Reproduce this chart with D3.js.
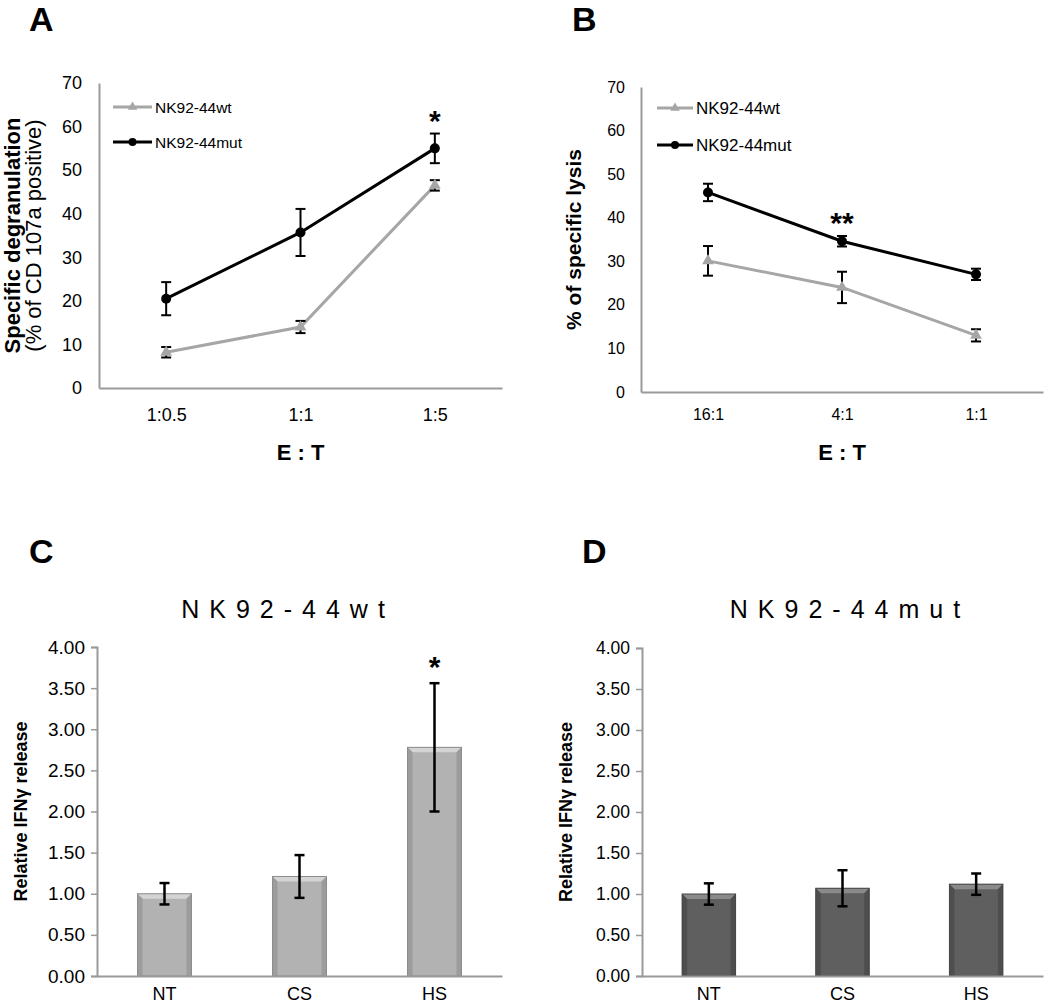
<!DOCTYPE html>
<html><head><meta charset="utf-8">
<script src="https://cdn.jsdelivr.net/npm/d3@7"></script>
<style>
html,body{margin:0;padding:0;background:#fff;}
svg{display:block;font-family:"Liberation Sans",Arial,sans-serif;}
</style></head>
<body>
<svg id="fig" width="1050" height="1005"></svg>
<script>
// ---------- data ----------
const catsA = ["1:0.5", "1:1", "1:5"];
const wtA = [8.2, 14.0, 46.5];
const wtAerr = [1.2, 1.4, 1.2];
const mutA = [20.5, 35.7, 55.0];
const mutAerr = [3.8, 5.4, 3.4];

const catsB = ["16:1", "4:1", "1:1"];
const wtB = [30.1, 24.0, 13.0];
const wtBerr = [3.4, 3.6, 1.4];
const mutB = [45.8, 34.6, 27.0];
const mutBerr = [2.0, 1.2, 1.3];

const treatments = ["NT", "CS", "HS"];
const wtC = [1.00, 1.21, 2.78];
const wtCerr = [0.13, 0.26, 0.78];
const mutD = [1.00, 1.07, 1.12];
const mutDerr = [0.13, 0.22, 0.13];

const lineTicks = [0, 10, 20, 30, 40, 50, 60, 70];
const barTicks = [0, 0.5, 1, 1.5, 2, 2.5, 3, 3.5, 4];
const seriesNames = ["NK92-44wt", "NK92-44mut"];

// ---------- drawing ----------
const svg = d3.select("#fig");
const GRAY = "#a6a6a6";
const AXIS = "#9a9a9a";

function panelLetter(t, x, y) {
  svg.append("text").attr("x", x).attr("y", y).attr("font-size", 34)
    .attr("font-weight", "bold").text(t);
}

function linePanel(o) {
  const x = d3.scalePoint().domain(o.cats).range([o.x0, o.x1]).padding(0.5);
  const y = d3.scaleLinear().domain([0, 70]).range([o.y0, o.y1]);
  const g = svg.append("g");
  const ya = g.append("g").attr("transform", `translate(${o.x0},0)`)
    .call(d3.axisLeft(y).tickValues(lineTicks).tickSize(0).tickPadding(o.tickPad));
  ya.select(".domain").attr("stroke", AXIS).attr("stroke-width", 2);
  ya.selectAll("text").attr("font-size", o.tickFont).attr("fill", "#000")
    .attr("font-family", "Liberation Sans, Arial, sans-serif");
  const xa = g.append("g").attr("transform", `translate(0,${o.y0})`)
    .call(d3.axisBottom(x).tickSize(0).tickPadding(o.xTickPad));
  xa.select(".domain").attr("stroke", AXIS).attr("stroke-width", 2);
  xa.selectAll("text").attr("font-size", o.tickFont).attr("fill", "#000")
    .attr("font-family", "Liberation Sans, Arial, sans-serif");

  const series = [
    {vals: o.wt, err: o.wtErr, color: GRAY, mark: "tri"},
    {vals: o.mut, err: o.mutErr, color: "#000", mark: "circ"}
  ];
  const line = d3.line().x((d, i) => x(o.cats[i])).y(d => y(d));
  series.forEach(s => {
    g.append("path").datum(s.vals).attr("d", line).attr("fill", "none")
      .attr("stroke", s.color).attr("stroke-width", 3);
  });
  series.forEach(s => {
    s.vals.forEach((v, i) => {
      const cx = x(o.cats[i]);
      const yt = y(v + s.err[i]), yb = y(v - s.err[i]);
      g.append("line").attr("x1", cx).attr("x2", cx).attr("y1", yt).attr("y2", yb)
        .attr("stroke", "#000").attr("stroke-width", 2);
      [yt, yb].forEach(yy => g.append("line").attr("x1", cx - 5).attr("x2", cx + 5)
        .attr("y1", yy).attr("y2", yy).attr("stroke", "#000").attr("stroke-width", 2));
      if (s.mark === "circ") {
        g.append("circle").attr("cx", cx).attr("cy", y(v)).attr("r", 5).attr("fill", "#000");
      } else {
        g.append("path").attr("d", d3.symbol(d3.symbolTriangle, 60)())
          .attr("transform", `translate(${cx},${y(v)})`).attr("fill", GRAY);
      }
    });
  });
  const si = o.sigIndex;
  g.append("text").attr("x", x(o.cats[si])).attr("y", y(o.mut[si] + o.mutErr[si]) - 20 + 17)
    .attr("text-anchor", "middle").attr("font-size", 30).attr("font-weight", "bold").text(o.sig);
  series.forEach((s, k) => {
    const ly = o.legY[k];
    g.append("line").attr("x1", o.legX0).attr("x2", o.legX1).attr("y1", ly).attr("y2", ly)
      .attr("stroke", s.color).attr("stroke-width", 3);
    const mx = (o.legX0 + o.legX1) / 2;
    if (s.mark === "circ") g.append("circle").attr("cx", mx).attr("cy", ly).attr("r", 4).attr("fill", "#000");
    else g.append("path").attr("d", d3.symbol(d3.symbolTriangle, 40)())
      .attr("transform", `translate(${mx},${ly})`).attr("fill", GRAY);
    g.append("text").attr("x", o.legX1 + 3).attr("y", ly + o.legFont * 0.36)
      .attr("font-size", o.legFont).text(seriesNames[k]);
  });
  g.append("text").attr("x", (o.x0 + o.x1) / 2).attr("y", o.xLabY)
    .attr("text-anchor", "middle").attr("font-size", 22).attr("font-weight", "bold")
    .attr("xml:space", "preserve").text("E : T");
  const cy = (o.y0 + o.y1) / 2;
  o.yLabels.forEach(l => {
    g.append("text").attr("transform", `translate(${l.x},${cy}) rotate(-90)`)
      .attr("text-anchor", "middle").attr("font-size", l.size)
      .attr("font-weight", l.bold ? "bold" : "normal").text(l.text);
  });
}

function barPanel(o) {
  const x = d3.scaleBand().domain(treatments).range([o.x0, o.x1]).paddingInner(0.6).paddingOuter(0.3);
  const y = d3.scaleLinear().domain([0, 4]).range([o.y0, o.y1]);
  const g = svg.append("g");
  const ya = g.append("g").attr("transform", `translate(${o.x0},0)`)
    .call(d3.axisLeft(y).tickValues(barTicks).tickFormat(d3.format(".2f")).tickSize(6).tickPadding(6));
  ya.select(".domain").attr("stroke", AXIS).attr("stroke-width", 2);
  ya.selectAll("line").attr("stroke", AXIS).attr("stroke-width", 1.5);
  ya.selectAll("text").attr("font-size", o.tickFont).attr("fill", "#000")
    .attr("font-family", "Liberation Sans, Arial, sans-serif");

  const bw = x.bandwidth(), bev = 5;
  o.vals.forEach((v, i) => {
    const bx = x(treatments[i]), by = y(v), bh = o.y0 - by;
    g.append("rect").attr("x", bx).attr("y", by).attr("width", bw).attr("height", bh)
      .attr("fill", o.fill);
    g.append("path").attr("d", `M${bx},${by}L${bx + bw},${by}L${bx + bw - bev},${by + bev}L${bx + bev},${by + bev}Z`)
      .attr("fill", o.light);
    g.append("path").attr("d", `M${bx},${by}L${bx + bev},${by + bev}L${bx + bev},${o.y0}L${bx},${o.y0}Z`)
      .attr("fill", o.dark);
    g.append("path").attr("d", `M${bx + bw},${by}L${bx + bw - bev},${by + bev}L${bx + bw - bev},${o.y0}L${bx + bw},${o.y0}Z`)
      .attr("fill", o.dark);
    g.append("rect").attr("x", bx).attr("y", by).attr("width", bw).attr("height", bh)
      .attr("fill", "none").attr("stroke", o.edge).attr("stroke-width", 1);
  });
  const xa = g.append("g").attr("transform", `translate(0,${o.y0})`)
    .call(d3.axisBottom(x).tickSize(0).tickPadding(11));
  xa.select(".domain").attr("stroke", AXIS).attr("stroke-width", 2);
  xa.selectAll("text").attr("font-size", 18).attr("fill", "#000")
    .attr("font-family", "Liberation Sans, Arial, sans-serif");
  o.vals.forEach((v, i) => {
    const cx = x(treatments[i]) + bw / 2;
    const yt = y(v + o.err[i]), yb = y(v - o.err[i]);
    g.append("line").attr("x1", cx).attr("x2", cx).attr("y1", yt).attr("y2", yb)
      .attr("stroke", "#000").attr("stroke-width", 2.5);
    [yt, yb].forEach(yy => g.append("line").attr("x1", cx - 5).attr("x2", cx + 5)
      .attr("y1", yy).attr("y2", yy).attr("stroke", "#000").attr("stroke-width", 2.5));
  });
  if (o.sigIndex != null) {
    const i = o.sigIndex;
    g.append("text").attr("x", x(treatments[i]) + bw / 2).attr("y", y(o.vals[i] + o.err[i]) - 23 + 17)
      .attr("text-anchor", "middle").attr("font-size", 30).attr("font-weight", "bold").text("*");
  }
  g.append("text").attr("x", o.titleX).attr("y", 618).attr("text-anchor", "middle")
    .attr("font-size", 25).attr("letter-spacing", 10).text(o.title);
  g.append("text").attr("transform", `translate(${o.yLabX},${(o.y0 + o.y1) / 2}) rotate(-90)`)
    .attr("text-anchor", "middle").attr("font-size", 18).attr("font-weight", "bold")
    .text("Relative IFNγ release");
}

panelLetter("A", 29, 31);
panelLetter("B", 572, 31);
panelLetter("C", 29, 563);
panelLetter("D", 582, 563);

linePanel({
  cats: catsA, wt: wtA, wtErr: wtAerr, mut: mutA, mutErr: mutAerr,
  x0: 99, x1: 502, y0: 388, y1: 83, tickFont: 18, tickPad: 17, xTickPad: 20,
  sigIndex: 2, sig: "*",
  legX0: 113, legX1: 152, legY: [107, 142], legFont: 15.5,
  xLabY: 460,
  yLabels: [{x: 20, text: "Specific degranulation", bold: true, size: 22},
            {x: 41, text: "(% of CD 107a positive)", bold: false, size: 22}]
});
linePanel({
  cats: catsB, wt: wtB, wtErr: wtBerr, mut: mutB, mutErr: mutBerr,
  x0: 641, x1: 1043, y0: 392, y1: 87, tickFont: 16, tickPad: 16, xTickPad: 17,
  sigIndex: 1, sig: "**",
  legX0: 657, legX1: 693, legY: [108, 145], legFont: 17,
  xLabY: 460,
  yLabels: [{x: 581, text: "% of specific lysis", bold: true, size: 21}]
});
barPanel({
  vals: wtC, err: wtCerr, x0: 97, x1: 502, y0: 976, y1: 647, tickFont: 19,
  fill: "#b2b2b2", light: "#d4d4d4", dark: "#9c9c9c", edge: "#8c8c8c",
  sigIndex: 2, title: "NK92-44wt", titleX: 288, yLabX: 27
});
barPanel({
  vals: mutD, err: mutDerr, x0: 642, x1: 1043, y0: 976, y1: 648, tickFont: 17.5,
  fill: "#5f5f5f", light: "#8a8a8a", dark: "#4e4e4e", edge: "#444",
  sigIndex: null, title: "NK92-44mut", titleX: 850, yLabX: 572
});
</script>
</body></html>
